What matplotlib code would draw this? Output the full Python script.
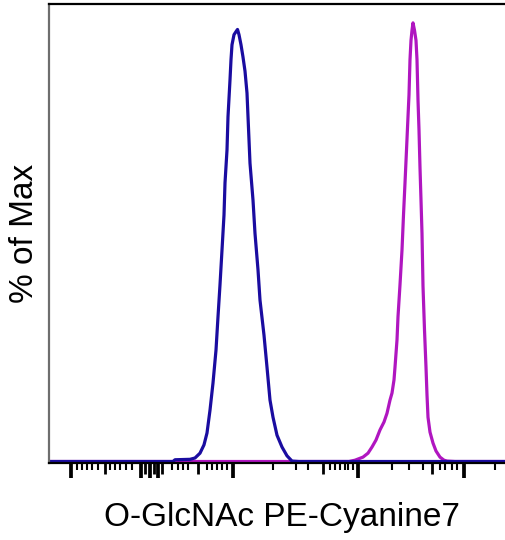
import matplotlib
matplotlib.use('Agg')
import matplotlib.pyplot as plt

# x in display channels (0 = left edge of plot), y in % of max
blue_x = [0, 124, 126, 141, 146, 151, 155, 158, 161, 164, 167, 169, 171, 173, 175, 176,
          178, 179, 181, 182, 183, 185, 187, 188.5, 190, 192, 194, 196, 198, 199.5, 201,
          204, 206, 209, 211, 215, 218, 221, 224, 228, 233, 238, 243, 250, 456]
blue_y = [0, 0, 0.4, 0.5, 0.8, 1.9, 3.8, 6.5, 11.7, 17.9, 25.4, 33, 40.3, 48.2, 56.2, 63.5,
          71, 78.6, 87, 91.6, 95, 97.3, 98, 98.5, 97.3, 95, 92.2, 89, 84, 76, 68,
          59.6, 52, 43.7, 36.8, 28.8, 21.5, 14, 10.1, 6, 3.3, 1.3, 0.1, 0, 0]

mag_x = [0, 300, 306, 314, 319, 323, 327, 331, 335, 338, 341, 343, 345, 346, 348, 349,
         351, 353, 354.5, 356, 357.5, 359, 360, 361, 362, 363, 364, 365.5, 367, 368, 369,
         370, 371, 372, 373, 374, 375.5, 377, 378, 379, 381, 384, 387, 391, 395, 398, 406, 456]
mag_y = [0, 0, 0.3, 1.0, 1.9, 3.3, 4.9, 7.2, 9, 11, 14, 15.6, 18.6, 21.5, 27.7, 33,
         40.3, 48.2, 56.2, 63.5, 71, 78.6, 83.6, 91.6, 96, 98.3, 100, 98.3, 96, 91.6, 82.4,
         75.6, 67, 59.6, 52, 40, 30, 21.5, 15.2, 10.1, 6.7, 4.2, 2.4, 1.0, 0.3, 0.1, 0, 0]

# biexponential-style tick marks
major_ticks = [22, 92, 101, 109, 184, 309, 415]
mid_ticks = [56, 96, 105, 113, 149, 274, 383]
small_ticks = [28, 33, 38, 43, 49, 61, 66, 71, 77, 83, 123, 129, 134, 139, 158, 163,
               168, 173, 178, 224, 247, 259, 281, 286, 291, 296, 299, 304, 343, 360,
               374, 391, 396, 403, 408, 446]

x_label = 'O-GlcNAc PE-Cyanine7'
y_label = '% of Max'

fig = plt.figure(figsize=(5.05, 5.4), dpi=100)
ax = fig.add_axes([49 / 505, 77 / 540, 456 / 505, 459 / 540])

ax.plot(mag_x, mag_y, color='#b016c0', lw=2.3, solid_joinstyle='round')
ax.plot(blue_x, blue_y, color='#1a0ca0', lw=2.3, solid_joinstyle='round')

ax.set_xlim(0, 456)
ax.set_ylim(-0.34, 104.3)

ax.spines['right'].set_visible(False)
ax.spines['top'].set_linewidth(1.6)
ax.spines['bottom'].set_linewidth(1.6)
ax.spines['left'].set_linewidth(1.6)
ax.spines['left'].set_color('#6e6e6e')

ax.set_yticks([])
ax.set_xticks(major_ticks)
ax.set_xticks(small_ticks, minor=True)
ax.set_xticklabels([])
ax.tick_params(axis='x', which='major', length=11, width=2.7, color='black')
ax.tick_params(axis='x', which='minor', length=5, width=1.5, color='black')

sec = ax.secondary_xaxis('bottom')
sec.set_xticks(mid_ticks)
sec.set_xticklabels([])
sec.tick_params(axis='x', length=8, width=2, color='black')
sec.spines['bottom'].set_visible(False)

font = 'Liberation Sans'
ax.set_xlabel(x_label, fontsize=24, family=font)
ax.xaxis.set_label_coords(0.51, -0.085)
ax.set_ylabel(y_label, fontsize=24, family=font)
ax.yaxis.set_label_coords(-0.02, 0.5)

fig.savefig('out.png', dpi=100)
